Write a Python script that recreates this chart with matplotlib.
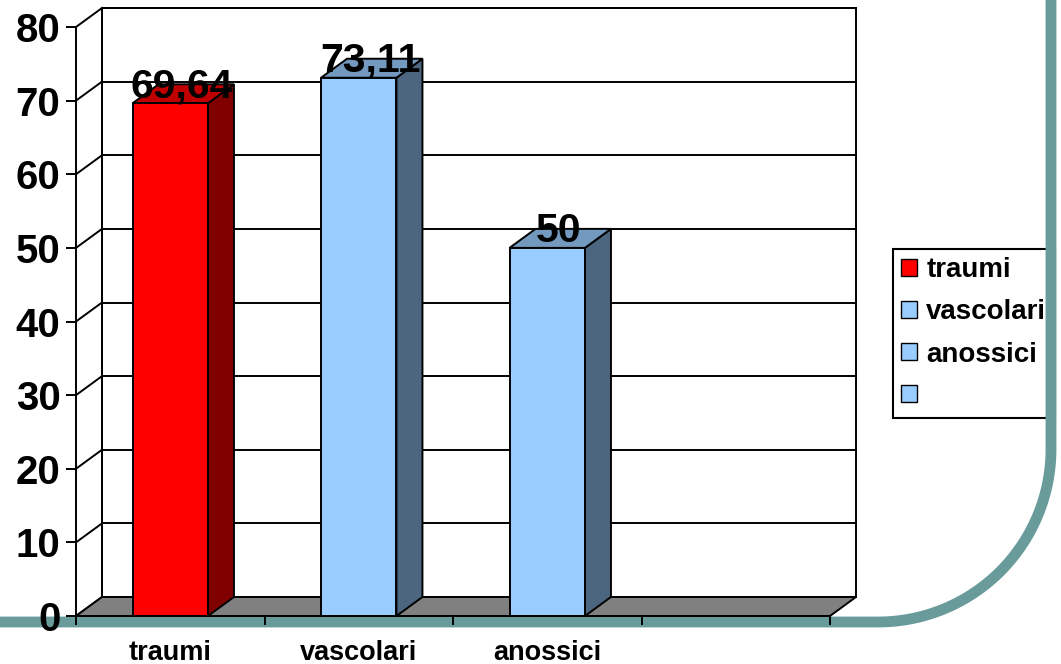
import matplotlib
matplotlib.use('Agg')
import matplotlib.pyplot as plt
from matplotlib.patches import Polygon, Patch
import numpy as np

plt.rcParams['font.family'] = ['Liberation Sans', 'DejaVu Sans']
plt.rcParams['font.weight'] = 'bold'

# data
categories = ['traumi', 'vascolari', 'anossici', '']
values = [69.64, 73.11, 50]
value_labels = ['69,64', '73,11', '50']
yticks = [0, 10, 20, 30, 40, 50, 60, 70, 80]

front_cols = ['#FF0000', '#99CCFF', '#99CCFF', '#99CCFF']
top_cols = ['#C00000', '#7399BF', '#7399BF', '#7399BF']
side_cols = ['#800000', '#4D6680', '#4D6680', '#4D6680']
teal = '#699B9B'

W, H = 1061, 664
x0_px, y0_px = 76, 616          # origin of the plot in pixels
cat_px, unit_px = 188.5, 7.3625  # pixels per category / per value unit
DX, DY = 26 / cat_px, 19 / unit_px  # 3d depth in data units
half_w = 0.2
ymax = 80
ncat = len(categories)

fig = plt.figure(figsize=(W / 100, H / 100), dpi=100)

# teal slide decoration in pixel coords
bg = fig.add_axes([0, 0, 1, 1], zorder=1)
bg.set_xlim(0, W)
bg.set_ylim(H, 0)
bg.axis('off')
cx, cy, r = 878, 449, 173
th = np.linspace(0, np.pi / 2, 60)
px = np.concatenate([[cx + r, cx + r], cx + r * np.cos(th), [0]])
py = np.concatenate([[0, cy], cy + r * np.sin(th), [cy + r]])
bg.plot(px, py, color=teal, lw=7.8, solid_capstyle='butt', solid_joinstyle='round')

ax = fig.add_axes([0, 0, 1, 1], zorder=2)
ax.patch.set_visible(False)
ax.set_xlim(-x0_px / cat_px, (W - x0_px) / cat_px)
ax.set_ylim(-(H - y0_px) / unit_px, y0_px / unit_px)

lc = dict(color='black', lw=1.4, zorder=1)
# back wall
ax.add_patch(Polygon([(DX, DY), (ncat + DX, DY), (ncat + DX, ymax + DY), (DX, ymax + DY)],
                     closed=True, facecolor='white', edgecolor='black', lw=1.4, zorder=0.5))
for t in yticks:
    ax.plot([DX, ncat + DX], [t + DY, t + DY], **lc)
    ax.plot([0, DX], [t, t + DY], **lc)
ax.plot([DX, DX], [DY, ymax + DY], **lc)

# floor
ax.add_patch(Polygon([(0, 0), (ncat, 0), (ncat + DX, DY), (DX, DY)], closed=True,
                     facecolor='#808080', edgecolor='black', lw=1.4, zorder=2))

# bars
for i, v in enumerate(values):
    xc = i + 0.5
    xl, xr = xc - half_w, xc + half_w
    ax.add_patch(Polygon([(xr, 0), (xr + DX, DY), (xr + DX, v + DY), (xr, v)], closed=True,
                         facecolor=side_cols[i], edgecolor='black', lw=1.4, zorder=3))
    ax.add_patch(Polygon([(xl, v), (xr, v), (xr + DX, v + DY), (xl + DX, v + DY)], closed=True,
                         facecolor=top_cols[i], edgecolor='black', lw=1.4, zorder=3))
    ax.add_patch(Polygon([(xl, 0), (xr, 0), (xr, v), (xl, v)], closed=True,
                         facecolor=front_cols[i], edgecolor='black', lw=1.4, zorder=3))
    ax.text(xc + DX * 0.45, v + 0.8, value_labels[i], ha='center', va='baseline',
            fontsize=29.5, fontweight='bold', zorder=4)

# axes
for s in ['top', 'right']:
    ax.spines[s].set_visible(False)
ax.spines['left'].set_position(('data', 0))
ax.spines['left'].set_bounds(0, ymax)
ax.spines['bottom'].set_position(('data', 0))
ax.spines['bottom'].set_bounds(0, ncat)
for s in ['left', 'bottom']:
    ax.spines[s].set_linewidth(1.4)
    ax.spines[s].set_zorder(5)
ax.set_yticks(yticks)
ax.set_yticklabels([str(t) for t in yticks])
ax.tick_params(axis='y', direction='out', length=7.2, width=1.4, pad=4.0, labelsize=29)
ax.set_xticks(range(ncat + 1))
ax.set_xticklabels([])
ax.set_xticks([i + 0.5 for i in range(ncat)], minor=True)
ax.set_xticklabels(categories, minor=True)
ax.tick_params(axis='x', which='major', direction='out', length=6.5, width=1.4)
ax.tick_params(axis='x', which='minor', length=0, pad=17, labelsize=19.5)

# legend
handles = [Patch(facecolor=c, edgecolor='black', lw=1) for c in front_cols]
leg = fig.legend(handles, categories, loc='upper left',
                 bbox_to_anchor=(893 / W, 1 - 249 / H), frameon=True, fancybox=False,
                 edgecolor='black', framealpha=1, fontsize=20, handlelength=0.55,
                 handleheight=0.55, handletextpad=0.35, labelspacing=0.58,
                 borderpad=0.3, borderaxespad=0)
leg.get_frame().set_linewidth(1.5)
leg.set_zorder(0.5)

fig.savefig('out.png', dpi=100)
